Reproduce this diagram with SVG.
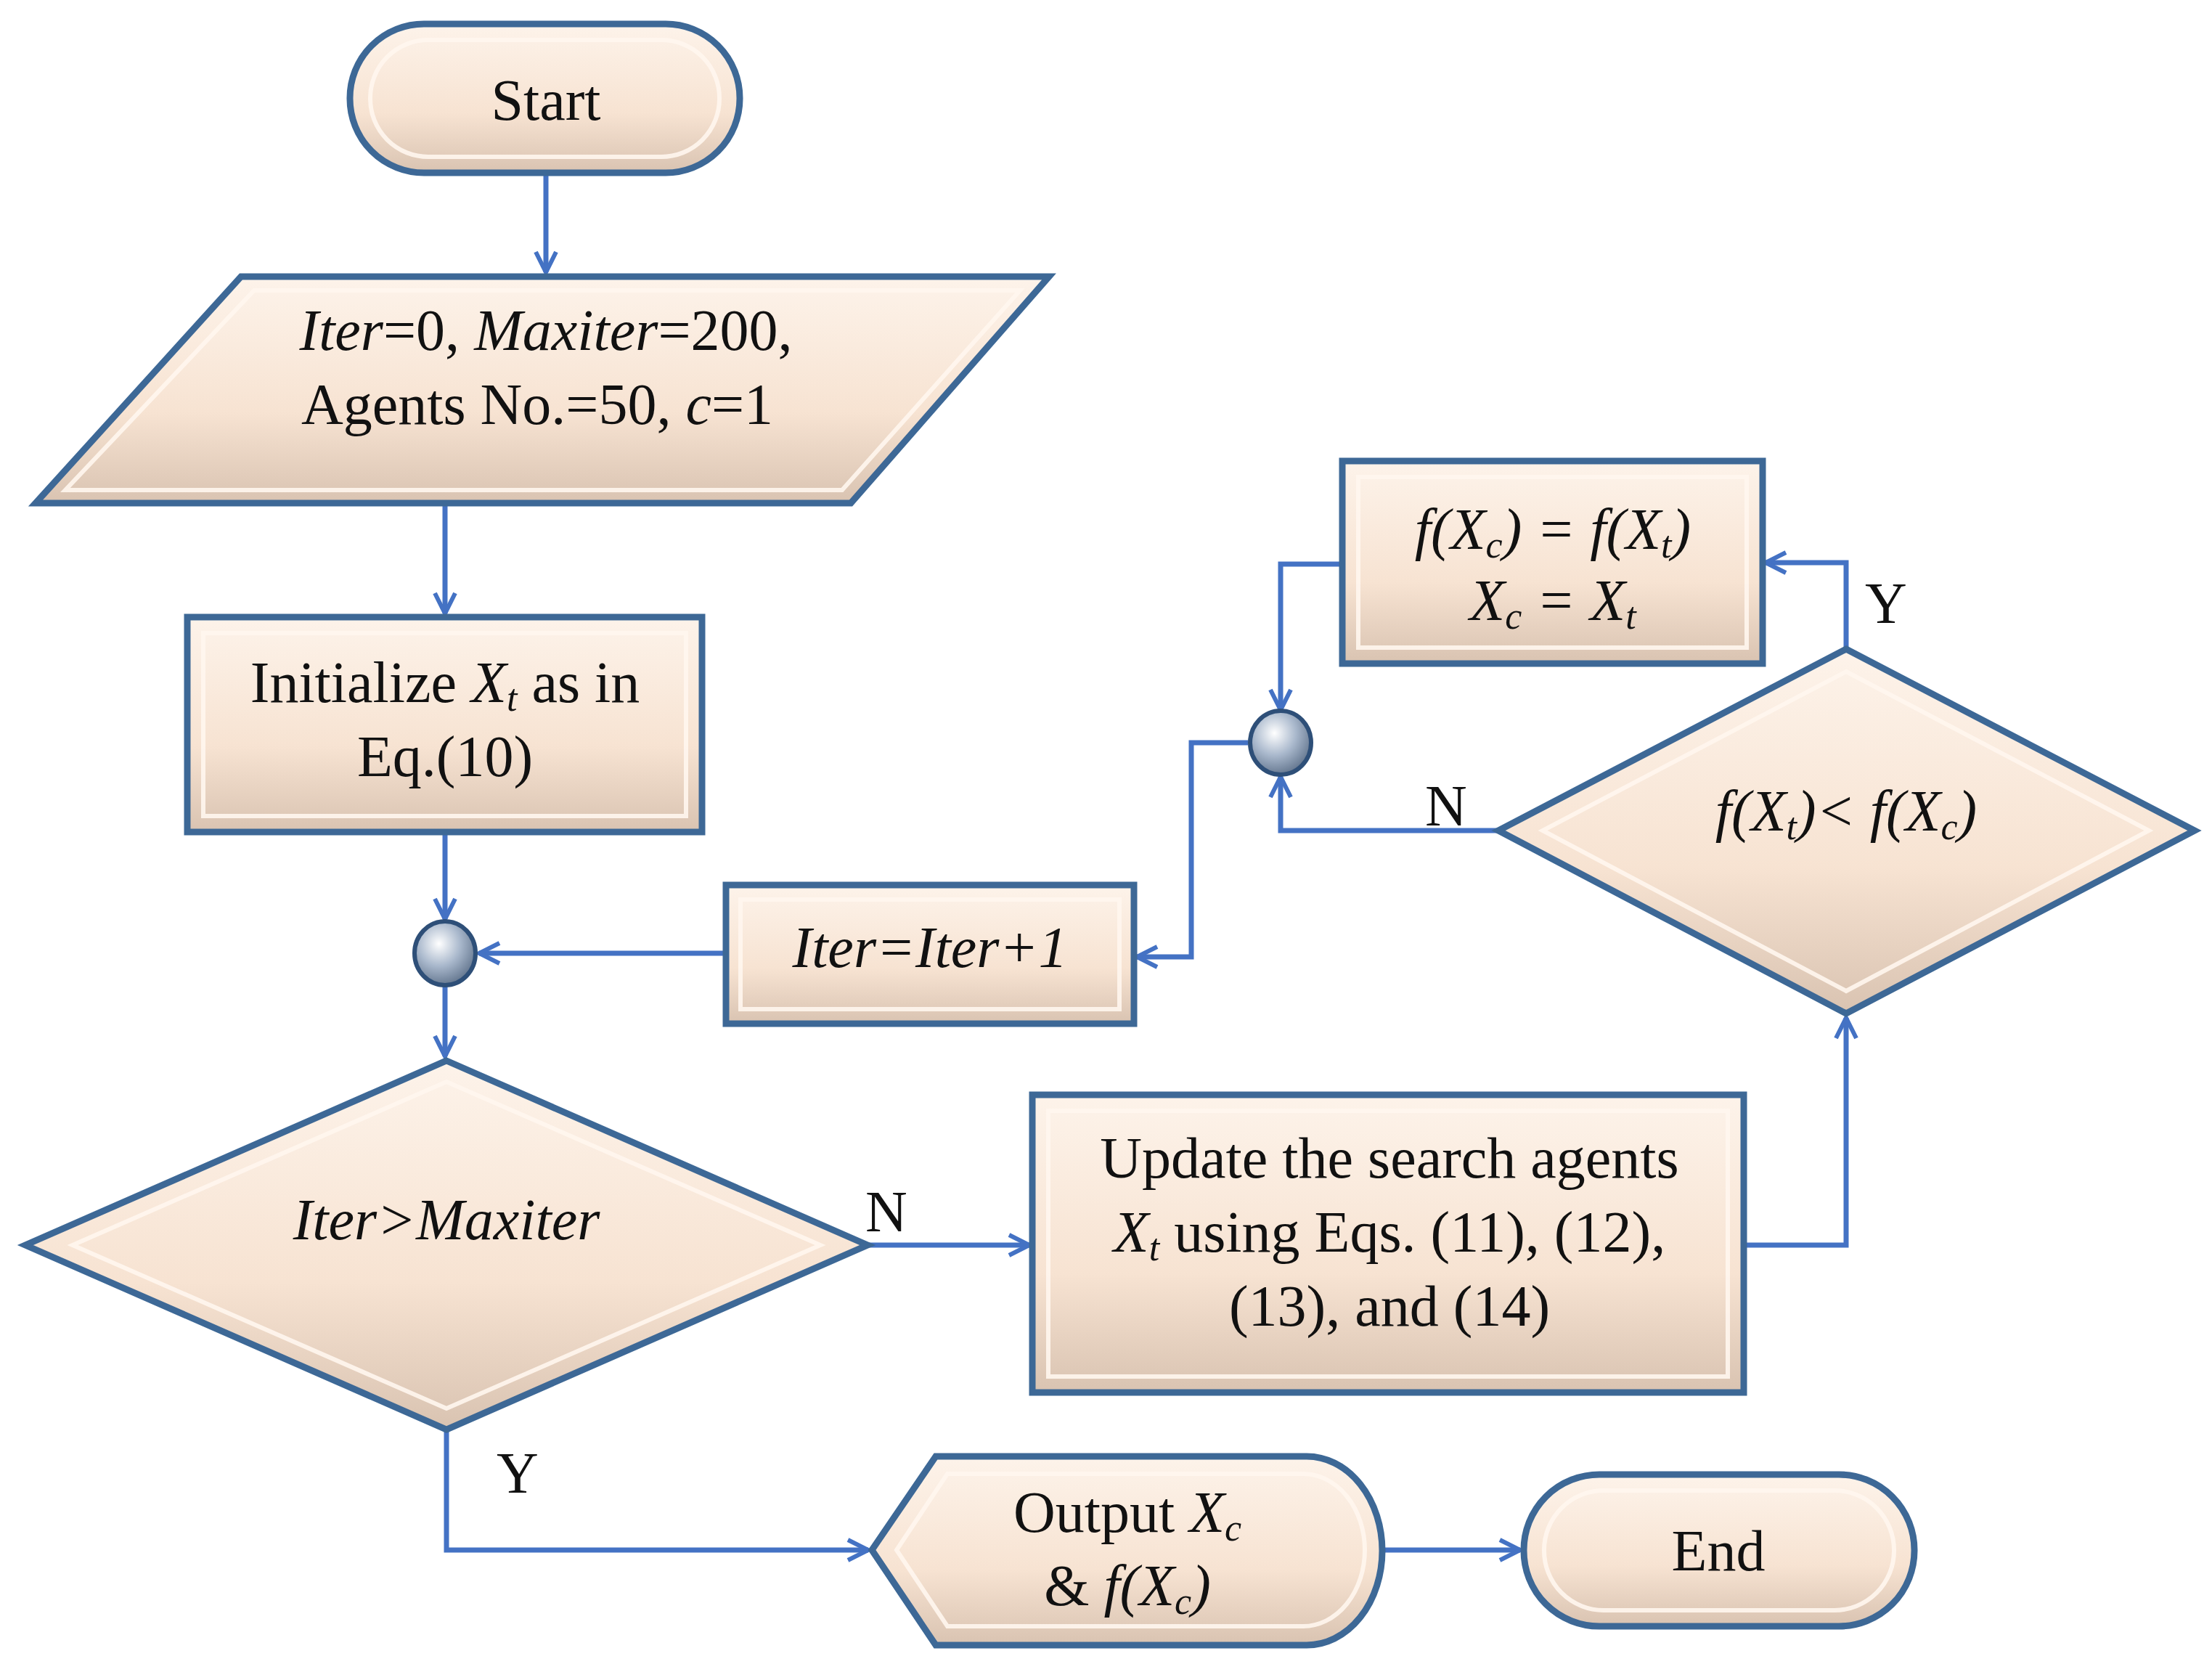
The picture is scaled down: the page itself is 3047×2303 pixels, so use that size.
<svg xmlns="http://www.w3.org/2000/svg" width="3047" height="2303" viewBox="0 0 3047 2303">
<style>
.b{fill:url(#g);stroke:#3d6896;stroke-width:9}
.i{fill:none;stroke:#fff6ee;stroke-width:6;opacity:.9}
.t{font-family:'Liberation Serif','Times New Roman','DejaVu Serif',serif;font-size:80px;fill:#111;text-anchor:middle}
.c{fill:none;stroke:#4472c4;stroke-width:7;marker-end:url(#a)}
.s{font-size:52px}
</style>
<defs>
<linearGradient id="g" x1="0" y1="0" x2="0" y2="1"><stop offset="0" stop-color="#fdf3ea"/><stop offset=".6" stop-color="#f7e3d2"/><stop offset="1" stop-color="#d9c3b1"/></linearGradient>
<radialGradient id="j" cx=".4" cy=".35" r=".7"><stop offset="0" stop-color="#fff"/><stop offset=".5" stop-color="#a9b8cc"/><stop offset="1" stop-color="#5c6f88"/></radialGradient>
<marker id="a" markerWidth="40" markerHeight="40" refX="34" refY="20" orient="auto" markerUnits="userSpaceOnUse"><path d="M6,6 L34,20 L6,34" fill="none" stroke="#4472c4" stroke-width="6"/></marker>
</defs>
<g id="connectors">
<path class="c" d="M752,238 V375"/>
<path class="c" d="M613,693 V845"/>
<path class="c" d="M613,1146 V1266"/>
<path class="c" d="M1000,1313 H660"/>
<path class="c" d="M613,1358 V1455"/>
<path class="c" d="M1195,1715 H1418"/>
<path class="c" d="M2402,1715 H2543 V1402"/>
<path class="c" d="M2543,894 V775 H2432"/>
<path class="c" d="M1849,777 H1764 V978"/>
<path class="c" d="M2064,1144 H1764 V1070"/>
<path class="c" d="M1719,1023 H1641 V1318 H1566"/>
<path class="c" d="M615,1969 V2135 H1196"/>
<path class="c" d="M1904,2135 H2094"/>
<text class="t" x="1221" y="1696">N</text>
<text class="t" x="713" y="2056">Y</text>
<text class="t" x="2598" y="858">Y</text>
<text class="t" x="1992" y="1137">N</text>
</g>
<g id="start"><rect class="b" x="482" y="33" width="537" height="205" rx="102"/><rect class="i" x="510" y="55" width="481" height="161" rx="80"/><text class="t" x="752" y="165">Start</text></g>
<g id="params"><polygon class="b" points="332,381 1445,381 1172,693 49,693"/><polygon class="i" points="350,400 1405,400 1160,675 90,675"/>
<text class="t" x="752" y="482"><tspan font-style="italic">Iter</tspan>=0, <tspan font-style="italic">Maxiter</tspan>=200,</text>
<text class="t" x="740" y="584">Agents No.=50, <tspan font-style="italic">c</tspan>=1</text></g>
<g id="init"><rect class="b" x="258" y="850" width="709" height="296"/><rect class="i" x="280" y="872" width="665" height="252"/>
<text class="t" x="613" y="967">Initialize <tspan font-style="italic">X<tspan class="s" dy="12">t</tspan></tspan><tspan dy="-12"> as in</tspan></text>
<text class="t" x="613" y="1069">Eq.(10)</text></g>
<g id="junction1"><ellipse cx="613" cy="1313" rx="42" ry="44" fill="url(#j)" stroke="#2e4f78" stroke-width="6"/></g>
<g id="iterinc"><rect class="b" x="1000" y="1219" width="562" height="191"/><rect class="i" x="1020" y="1239" width="522" height="151"/>
<text class="t" x="1281" y="1332" font-style="italic">Iter=Iter+1</text></g>
<g id="decision1"><polygon class="b" points="615,1461 1195,1715 615,1969 35,1715"/><polygon class="i" points="615,1490 1130,1715 615,1940 100,1715"/>
<text class="t" x="615" y="1707" font-style="italic">Iter&gt;Maxiter</text></g>
<g id="update"><rect class="b" x="1422" y="1508" width="980" height="410"/><rect class="i" x="1444" y="1530" width="936" height="366"/>
<text class="t" x="1914" y="1622">Update the search agents</text>
<text class="t" x="1914" y="1724"><tspan font-style="italic">X<tspan class="s" dy="12">t</tspan></tspan><tspan dy="-12"> using Eqs. (11), (12),</tspan></text>
<text class="t" x="1914" y="1826">(13), and (14)</text></g>
<g id="decision2"><polygon class="b" points="2543,894 3023,1144 2543,1396 2064,1144"/><polygon class="i" points="2543,925 2960,1144 2543,1365 2125,1144"/>
<text class="t" x="2543" y="1144" font-style="italic">f(X<tspan class="s" dy="12">t</tspan><tspan dy="-12">)&lt; f(X</tspan><tspan class="s" dy="12">c</tspan><tspan dy="-12">)</tspan></text></g>
<g id="update2"><rect class="b" x="1849" y="635" width="579" height="279"/><rect class="i" x="1871" y="657" width="535" height="235"/>
<text class="t" x="2139" y="756" font-style="italic">f(X<tspan class="s" dy="12">c</tspan><tspan dy="-12">) = f(X</tspan><tspan class="s" dy="12">t</tspan><tspan dy="-12">)</tspan></text>
<text class="t" x="2139" y="854" font-style="italic">X<tspan class="s" dy="12">c</tspan><tspan dy="-12"> = X</tspan><tspan class="s" dy="12">t</tspan></text></g>
<g id="junction2"><ellipse cx="1764" cy="1023" rx="42" ry="44" fill="url(#j)" stroke="#2e4f78" stroke-width="6"/></g>
<g id="output"><path class="b" d="M1201,2135 L1289,2006 H1800 A104,130 0 0 1 1800,2266 H1289 Z"/><path class="i" d="M1235,2135 L1305,2030 H1795 A85,105 0 0 1 1795,2240 H1305 Z"/>
<text class="t" x="1553" y="2110">Output <tspan font-style="italic">X<tspan class="s" dy="12">c</tspan></tspan></text>
<text class="t" x="1553" y="2211">&amp; <tspan font-style="italic">f(X<tspan class="s" dy="12">c</tspan><tspan dy="-12">)</tspan></tspan></text></g>
<g id="end"><rect class="b" x="2099" y="2031" width="538" height="209" rx="104"/><rect class="i" x="2127" y="2053" width="482" height="165" rx="82"/><text class="t" x="2367" y="2163">End</text></g>
</svg>
